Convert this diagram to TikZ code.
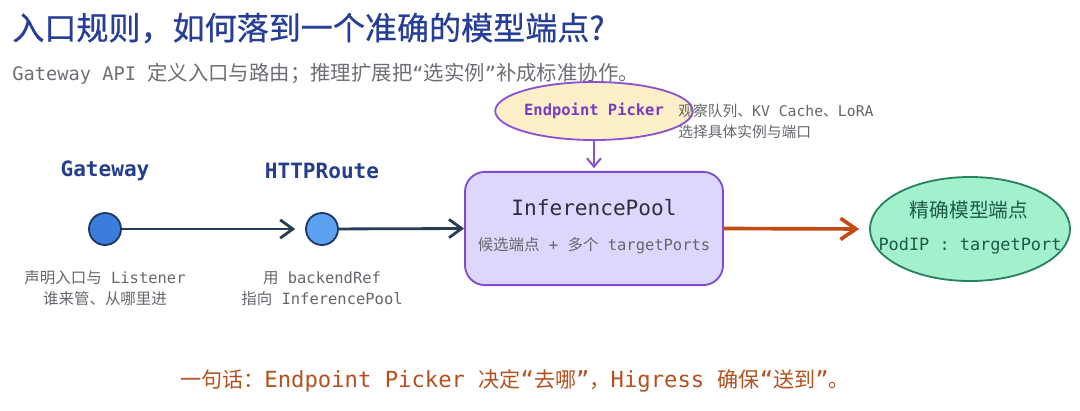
\documentclass[tikz,border=0pt]{standalone}
\usepackage{fontspec}
\setmainfont{DejaVu Sans Mono}
\newfontfamily\cjk{Noto Sans CJK SC}
\newfontfamily\cjktitle[FakeBold=0.6]{Noto Sans CJK SC}
\usetikzlibrary{arrows.meta,shapes.geometric}

\definecolor{titleblue}{RGB}{38,62,150}
\definecolor{subgray}{RGB}{108,110,116}
\definecolor{capgray}{RGB}{100,102,108}
\definecolor{labelblue}{RGB}{36,62,140}
\definecolor{dotone}{RGB}{59,125,221}
\definecolor{dottwo}{RGB}{92,160,240}
\definecolor{dotline}{RGB}{30,55,100}
\definecolor{flowdark}{RGB}{40,60,85}
\definecolor{poolfill}{RGB}{222,215,253}
\definecolor{poolline}{RGB}{124,77,210}
\definecolor{pooltext}{RGB}{45,45,60}
\definecolor{pickfill}{RGB}{253,240,200}
\definecolor{pickline}{RGB}{140,80,210}
\definecolor{picktext}{RGB}{120,60,190}
\definecolor{outorange}{RGB}{194,75,20}
\definecolor{epfill}{RGB}{163,240,205}
\definecolor{epline}{RGB}{40,130,95}
\definecolor{eptext}{RGB}{30,90,70}
\definecolor{notebrown}{RGB}{180,80,30}

\begin{document}
\begin{tikzpicture}[x=0.025cm,y=-0.025cm,
  dot/.style={shape=circle, draw=dotline, line width=1.3pt, minimum size=0.8cm, inner sep=0pt},
  tag/.style={text=labelblue, font=\bfseries\fontsize{15}{18}\selectfont},
  caption/.style={align=center, text=capgray, inner sep=0pt, font=\fontsize{11}{15}\selectfont},
  flow/.style={-{Straight Barb[length=9pt,width=13pt]}, line width=2pt, draw=flowdark}]
%%%%%%%%%%%%%%%%%%%%%%%%%%%%%%%%%%%%%%%%%%% HELP LINES
%\draw[help lines] (0,0) grid[step=100] (1080,410);
\useasboundingbox (0,0) rectangle (1080,410);

%%%%%%%%%%%%%%%%%%%%%%%%%%%%%%%%%%%%%%%%%%% heading
\node[anchor=west, inner sep=0pt, text=titleblue, font=\fontsize{22.8}{26}\selectfont](title) at (12,28) {\cjktitle 入口规则，如何落到一个准确的模型端点?};
\node[anchor=west, inner sep=0pt, text=subgray, font=\fontsize{13.3}{16}\selectfont](sub) at (12,74) {Gateway API {\fontsize{14.5}{16}\selectfont\cjk 定义入口与路由；推理扩展把}“{\fontsize{14.5}{16}\selectfont\cjk 选实例}”{\fontsize{14.5}{16}\selectfont\cjk 补成标准协作。}};

%%%%%%%%%%%%%%%%%%%%%%%%%%%%%%%%%%%%%%%%%%% gateway and route
\node[tag](gwname) at (105,171) {Gateway};
\node[tag](hrname) at (322,171) {HTTPRoute};
\node[dot, fill=dotone](gw) at (105,229) {};
\node[dot, fill=dottwo](hr) at (322,229) {};
\node[caption](gwcap) at (105,288.5) {{\cjk 声明入口与} Listener\\{\cjk 谁来管、从哪里进}};
\node[caption](hrcap) at (322,288.5) {{\cjk 用} backendRef\\{\cjk 指向} InferencePool};

%%%%%%%%%%%%%%%%%%%%%%%%%%%%%%%%%%%%%%%%%%% pool and picker
\node[shape=rectangle, rounded corners=0.5cm, draw=poolline, fill=poolfill, line width=1.3pt, minimum width=6.45cm, minimum height=2.83cm](pool) at (594,228.5) {};
\node[text=pooltext, font=\fontsize{15}{18}\selectfont](poolname) at (594,208) {InferencePool};
\node[text=capgray, font=\fontsize{11}{14}\selectfont](poolsub) at (594,246) {{\cjk 候选端点} + {\cjk 多个} targetPorts};

\node[shape=ellipse, draw=pickline, fill=pickfill, line width=1.3pt, minimum width=3.8cm, minimum height=1.45cm, inner sep=0pt, text=picktext, font=\bfseries\fontsize{11}{14}\selectfont](picker) at (594,111) {Endpoint Picker};
\node[anchor=west, align=left, inner sep=0pt, text=capgray, font=\fontsize{10.5}{15}\selectfont](pickcap) at (678,121.5) {{\cjk 观察队列、}KV Cache{\cjk 、}LoRA\\{\cjk 选择具体实例与端口}};

%%%%%%%%%%%%%%%%%%%%%%%%%%%%%%%%%%%%%%%%%%% endpoint
\node[shape=ellipse, draw=epline, fill=epfill, line width=1.3pt, minimum width=5cm, minimum height=2.6cm](ep) at (970,229) {};
\node[text=eptext, font=\fontsize{14}{17}\selectfont](epname) at (969,210) {\cjk 精确模型端点};
\node[text=eptext, font=\fontsize{12}{15}\selectfont](epaddr) at (970,246) {PodIP : targetPort};

%%%%%%%%%%%%%%%%%%%%%%%%%%%%%%%%%%%%%%%%%%% arrows
\draw[flow, shorten >=7pt] (gw) -- (hr);
\draw[flow] (hr) -- (pool.west);
\draw[-{Straight Barb[length=6pt,width=10pt]}, line width=1.4pt, draw=pickline, shorten >=2pt] (picker.south) -- (pool.north);
\draw[-{Straight Barb[length=11pt,width=15pt]}, line width=2.6pt, draw=outorange, shorten >=7pt] (pool.east) -- (ep.west);

%%%%% summary
\node[text=notebrown, font=\fontsize{15.8}{18}\selectfont](summary) at (515,381) {{\fontsize{15}{18}\selectfont\cjk 一句话：}Endpoint Picker {\fontsize{15}{18}\selectfont\cjk 决定}“{\fontsize{15}{18}\selectfont\cjk 去哪}”{\fontsize{15}{18}\selectfont\cjk ，}Higress {\fontsize{15}{18}\selectfont\cjk 确保}“{\fontsize{15}{18}\selectfont\cjk 送到}”{\fontsize{15}{18}\selectfont\cjk 。}};
\end{tikzpicture}
\end{document}
